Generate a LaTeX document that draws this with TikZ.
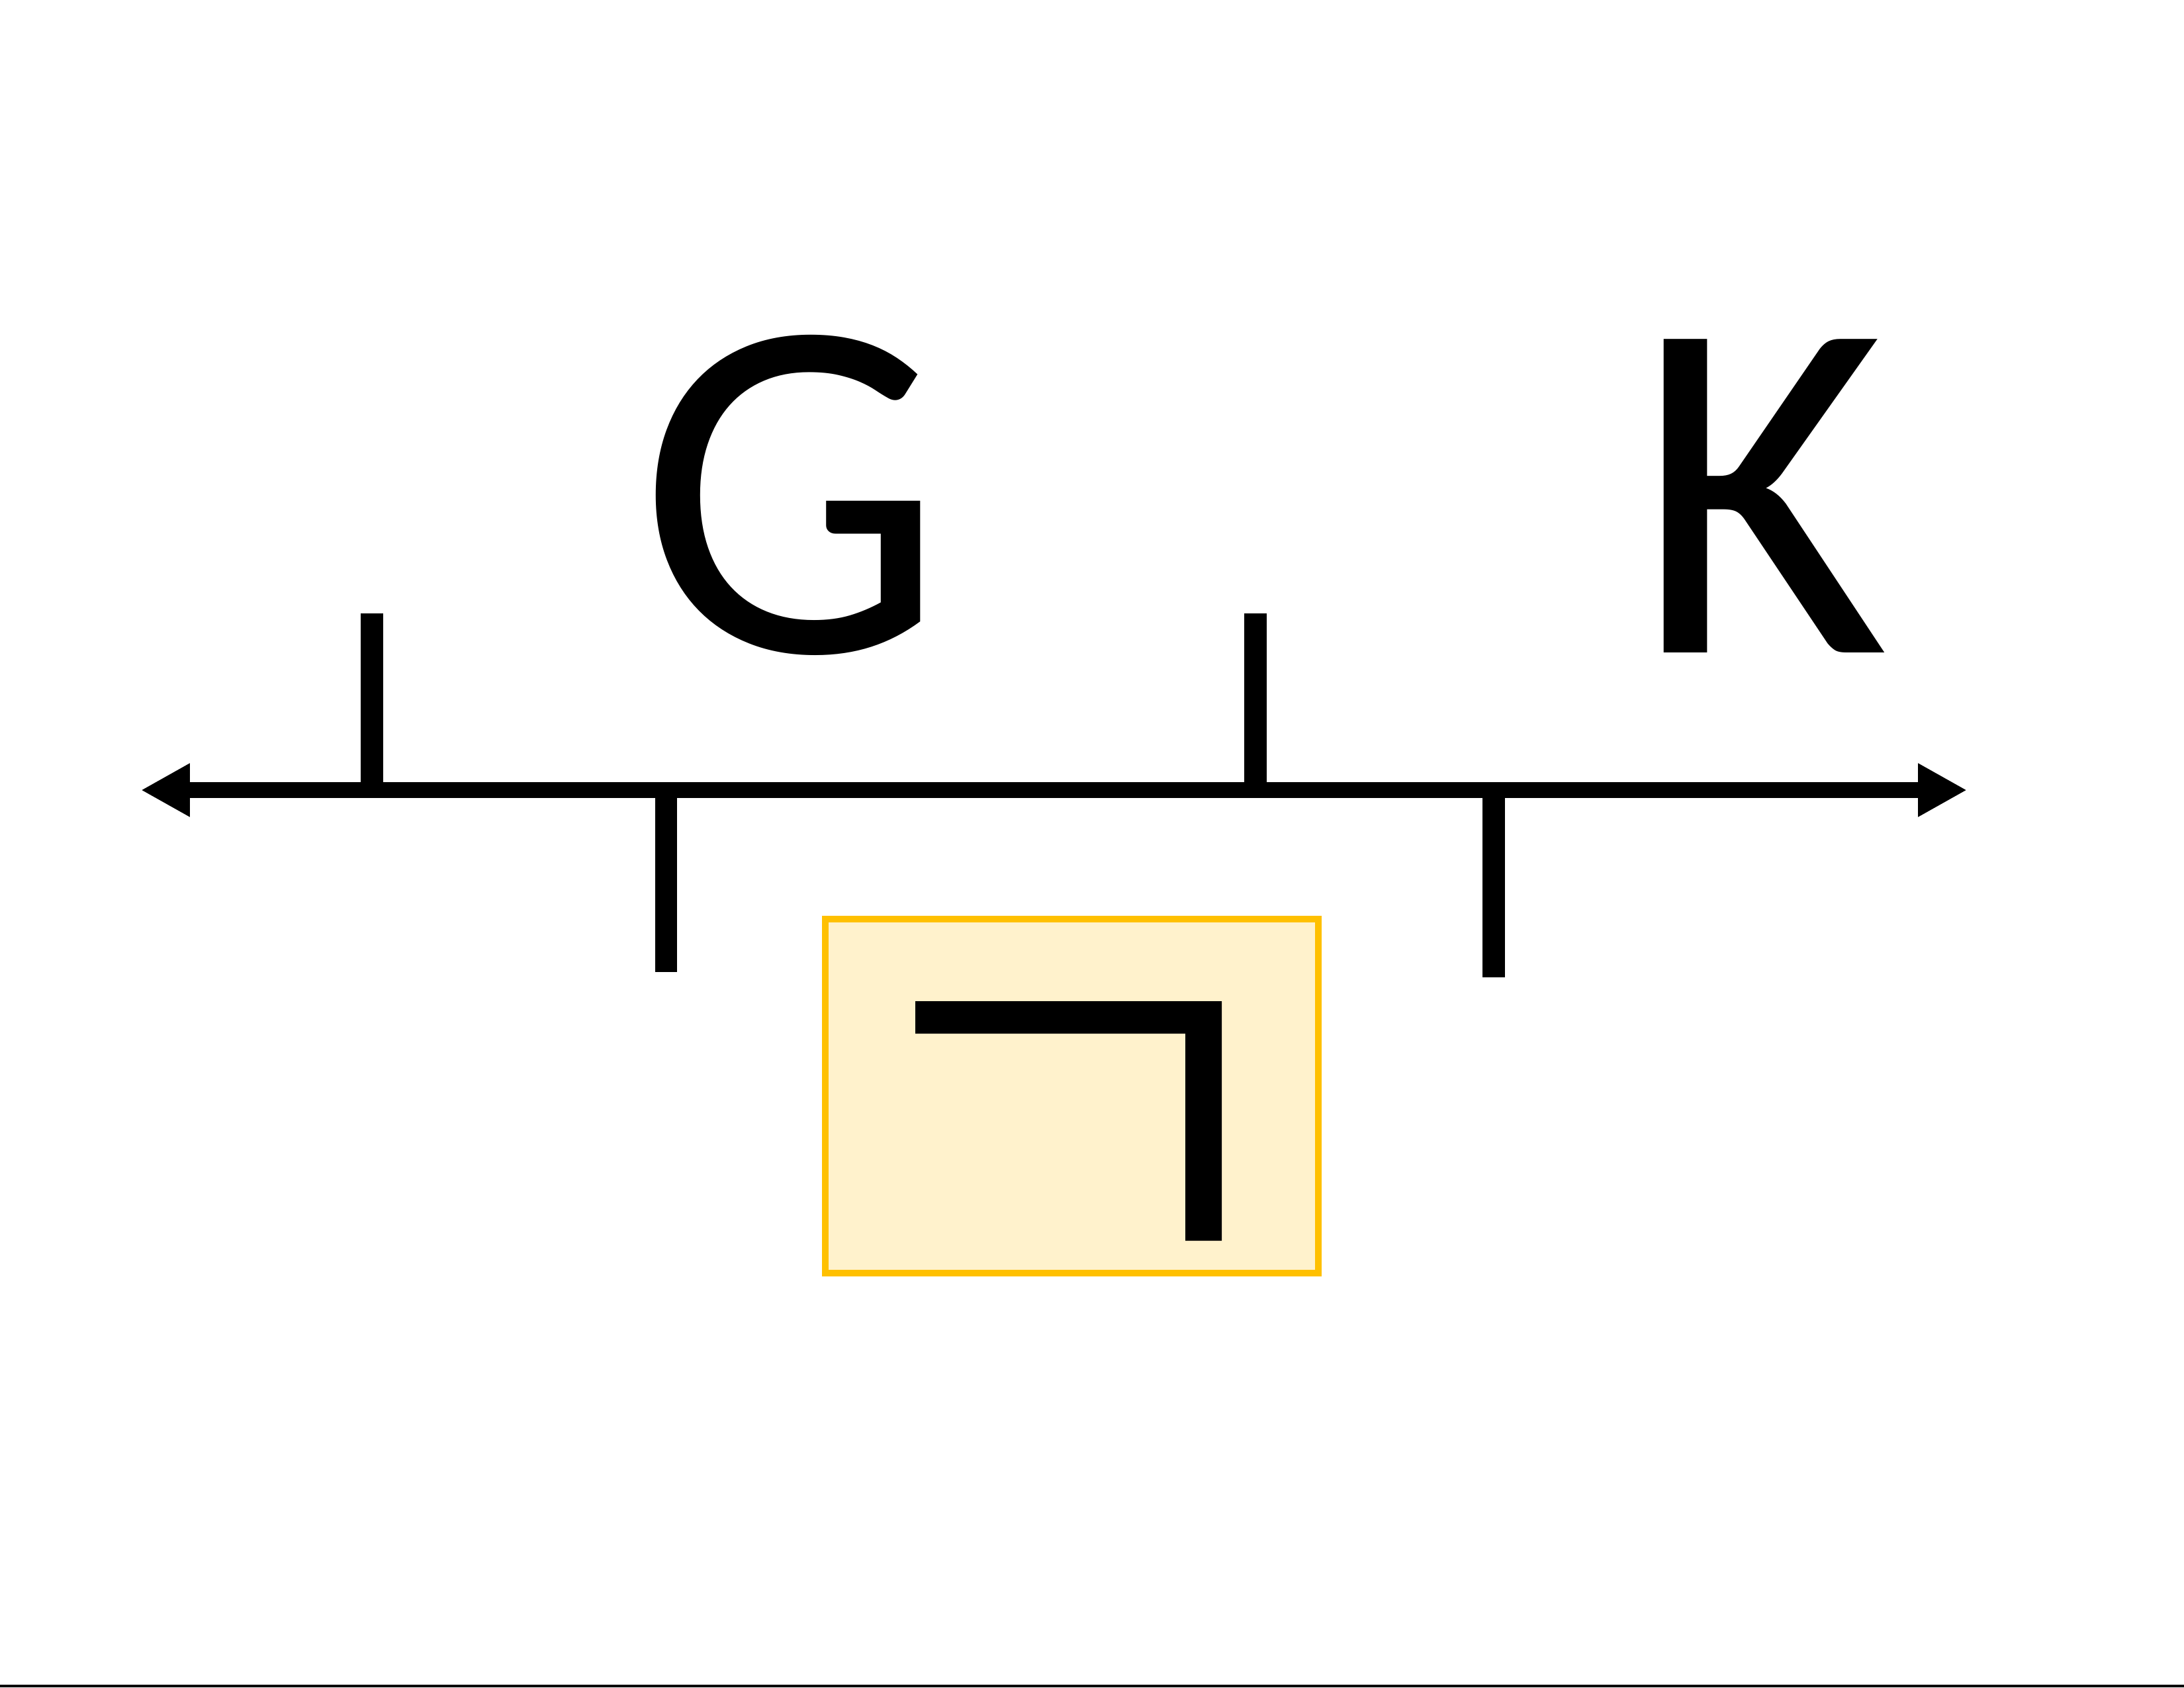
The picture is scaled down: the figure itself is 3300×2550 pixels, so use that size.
\documentclass[tikz,border=0pt]{standalone}
\usepackage{fontspec}
\setmainfont{Carlito}
\usetikzlibrary{arrows.meta}
\definecolor{boxfill}{HTML}{FFF2CC}
\definecolor{boxline}{HTML}{FFC000}
\tikzset{
  axisline/.style={line width=6.8pt, -{Triangle[length=21pt,width=21.5pt]}},
  tickline/.style={line width=9.5pt},
  bigletter/.style={font=\fontsize{210}{210}\selectfont, inner sep=0pt, anchor=base},
  hintbox/.style={draw=boxline, fill=boxfill, line width=2.85pt}
}
\begin{document}
\begin{tikzpicture}[x=0.01cm,y=-0.01cm]
\useasboundingbox (0,0) rectangle (3300,2550);
\fill[white] (0,0) rectangle (3300,2550);
% axis
\coordinate (L) at (213,1194);
\coordinate (R) at (2972,1194);
\coordinate (M) at (1600,1194);
\draw[axisline] (M) -- (R);
\draw[axisline] (M) -- (L);
% ticks
\coordinate (t1a) at (562,927);    \coordinate (t1b) at (562,1194);
\coordinate (t2a) at (1006.5,1194); \coordinate (t2b) at (1006.5,1469);
\coordinate (t3a) at (1897,927);   \coordinate (t3b) at (1897,1194);
\coordinate (t4a) at (2257,1194);  \coordinate (t4b) at (2257,1477);
\draw[tickline] (t1a) -- (t1b);
\draw[tickline] (t2a) -- (t2b);
\draw[tickline] (t3a) -- (t3b);
\draw[tickline] (t4a) -- (t4b);
% letters
\node[bigletter] (G) at (1196,985) {G};
\node[bigletter] (K) at (2661,986) {K};
% box with giyeok
\draw[hintbox] (1247,1389) rectangle (1992,1924);
\fill[black] (1383,1513) -- (1846,1513) -- (1846,1875) -- (1791,1875) -- (1791,1562) -- (1383,1562) -- cycle;
% bottom edge line
\fill[black] (0,2546) rectangle (3300,2550);
\end{tikzpicture}
\end{document}
